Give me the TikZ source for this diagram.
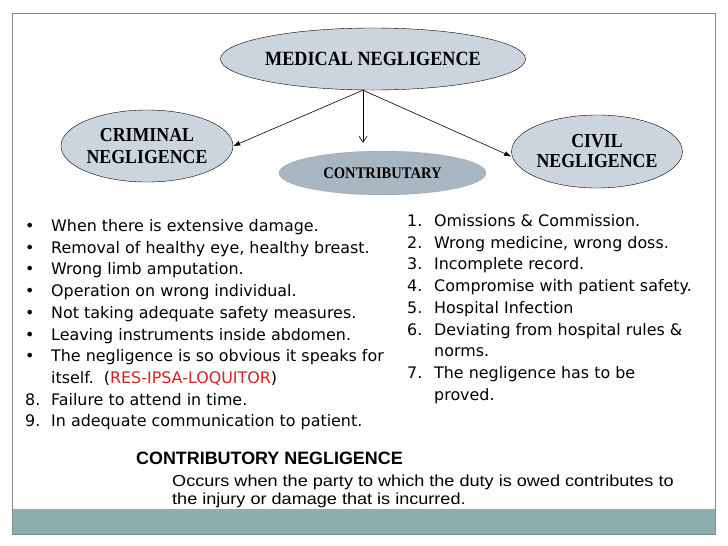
\documentclass[tikz,border=0pt]{standalone}
\usepackage{fontspec}
\setmainfont[FakeStretch=0.9]{Liberation Serif}
\newfontfamily\listfont{DejaVu Sans}
\newfontfamily\notefont{Liberation Sans}
\newfontfamily\notewidefont[FakeStretch=1.13]{Liberation Sans}
\usepackage{tikz}
\usetikzlibrary{shapes,arrows,arrows.meta,calc}
\definecolor{ovalfill}{HTML}{CCD5DD}
\definecolor{contribfill}{HTML}{A8B6C1}
\definecolor{bandfill}{HTML}{8CAEAE}
\definecolor{framegray}{HTML}{7D8F8F}
\definecolor{resred}{HTML}{D42222}
\tikzstyle{line} = [draw, line width=0.6pt, -{Latex[length=7pt,width=5pt]}]
\tikzstyle{openline} = [draw, line width=0.6pt, -{Straight Barb[length=6pt,width=8pt]}]
\tikzstyle{oval} = [draw, ellipse, fill=ovalfill, text centered, align=center, inner sep=0pt, font=\bfseries\fontsize{19.8}{22}\selectfont]
\tikzstyle{listtext} = [inner sep=0pt, anchor=base west, font=\listfont\fontsize{15.9}{21.7}\selectfont]
\tikzstyle{notetext} = [inner sep=0pt, anchor=base west, align=left]

\begin{document}
\begin{tikzpicture}[x=1pt, y=-1pt, node distance = 1.5cm, auto]
        \useasboundingbox (0,0) rectangle (728,546);
        \fill[bandfill] (12,509) rectangle (715,534);
        \draw[framegray, line width=0.8pt] (12,13) rectangle (715,534);
        \node[oval, minimum width=237pt, minimum height=62pt, font=\bfseries\fontsize{20.2}{22}\selectfont] (medical) at (373,59) {MEDICAL NEGLIGENCE};
        \node[oval, minimum width=172pt, minimum height=72pt] (criminal) at (147,146) {CRIMINAL\\NEGLIGENCE};
        \node[oval, minimum width=164pt, minimum height=73pt, font=\bfseries\fontsize{19.8}{20}\selectfont] (civil) at (597,151.5) {CIVIL\\NEGLIGENCE};
        \node[oval, fill=contribfill, draw=gray, densely dotted, minimum width=207pt, minimum height=44pt, font=\bfseries\fontsize{16.2}{18}\selectfont] (contrib) at (382.5,173) {CONTRIBUTARY};
        \path[line] ([xshift=-10pt]medical.south) -- (criminal.east);
        \path[openline] ([xshift=-10pt]medical.south) -- ([xshift=-19.5pt, yshift=8pt]contrib.north);
        \path[line] ([xshift=-10pt]medical.south) -- ([yshift=-5pt]civil.west);
        \node[listtext] (criminallist) at (25,231.5) {\begin{tabular}[t]{@{}p{26pt}@{}l@{}}
            \textbullet & When there is extensive damage.\\
            \textbullet & Removal of healthy eye, healthy breast.\\
            \textbullet & Wrong limb amputation.\\
            \textbullet & Operation on wrong individual.\\
            \textbullet & Not taking adequate safety measures.\\
            \textbullet & Leaving instruments inside abdomen.\\
            \textbullet & The negligence is so obvious it speaks for\\
             & itself.\ \ (\textcolor{resred}{RES-IPSA-LOQUITOR})\\
            8. & Failure to attend in time.\\
            9. & In adequate communication to patient.
        \end{tabular}};
        \node[listtext] (civillist) at (407,226.5) {\begin{tabular}[t]{@{}p{27pt}@{}l@{}}
            1. & Omissions \& Commission.\\
            2. & Wrong medicine, wrong doss.\\
            3. & Incomplete record.\\
            4. & Compromise with patient safety.\\
            5. & Hospital Infection\\
            6. & Deviating from hospital rules \&\\
             & norms.\\
            7. & The negligence has to be\\
             & proved.
        \end{tabular}};
        \node[notetext, font=\notefont\bfseries\fontsize{17.9}{20}\selectfont] (contribhead) at (136,464) {CONTRIBUTORY NEGLIGENCE};
        \node[notetext, font=\notewidefont\fontsize{16}{18.5}\selectfont] (contribnote) at (172,504.5) {Occurs when the party to which the duty is owed contributes to\\the injury or damage that is incurred.};
    \end{tikzpicture}
\end{document}
